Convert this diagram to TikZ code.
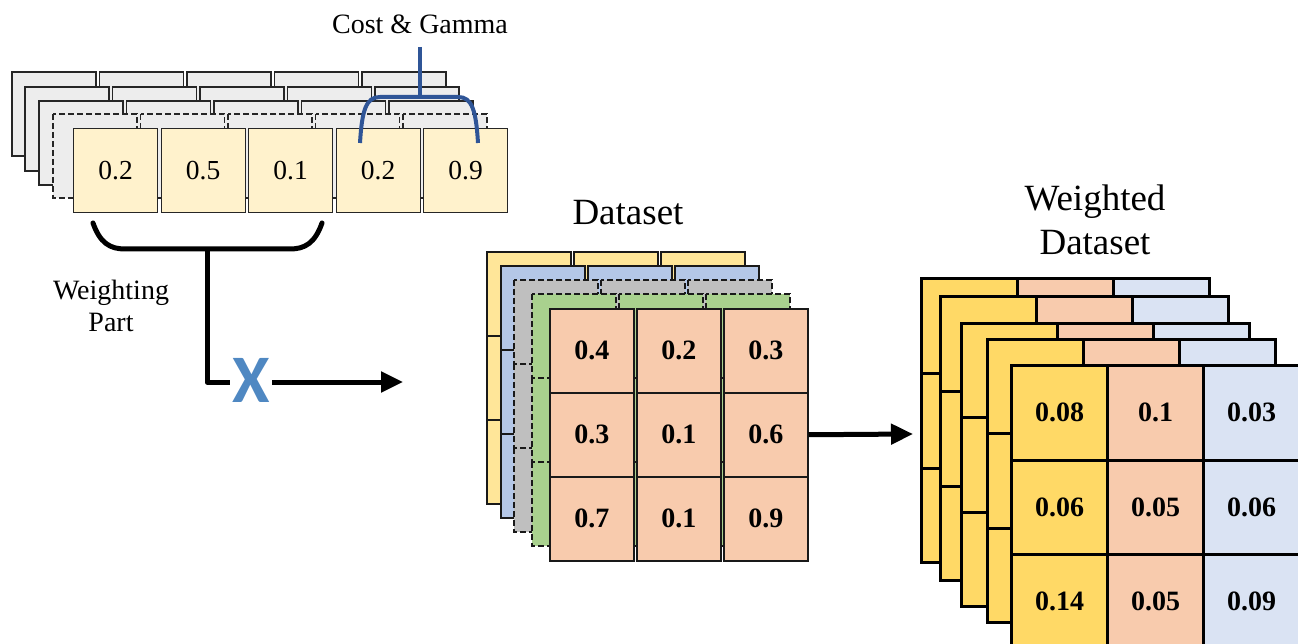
\documentclass[tikz,border=0pt]{standalone}
\usepackage{fontspec}
\setmainfont{Liberation Serif}
\newfontfamily\xfont{Carlito}
\usetikzlibrary{arrows.meta}

\definecolor{wgray}{HTML}{EDEDED}
\definecolor{wfill}{HTML}{FFF2CC}
\definecolor{dyellow}{HTML}{FFE699}
\definecolor{dblue}{HTML}{B4C7E7}
\definecolor{dgray}{HTML}{BFBFBF}
\definecolor{dgreen}{HTML}{A9D18E}
\definecolor{dorange}{HTML}{F8CBAD}
\definecolor{ryellow}{HTML}{FFD966}
\definecolor{rorange}{HTML}{F8CBAD}
\definecolor{rblue}{HTML}{DAE3F3}
\definecolor{bracketblue}{HTML}{2F5597}
\definecolor{xblue}{HTML}{4F88C2}

\tikzset{
  brokenline/.style={dash pattern=on 6pt off 3pt},
  wcell/.style={draw=black!85, line width=1.2pt, fill=wgray},
  wfront/.style={draw=black!85, line width=1.2pt, fill=wfill, anchor=north west,
    minimum width=84pt, minimum height=84pt, inner sep=0pt,
    font=\fontsize{27.5}{30}\selectfont},
  dcell/.style={draw=black!90, line width=1.5pt},
  dfront/.style={draw=black!90, line width=1.5pt, fill=dorange, anchor=north west,
    minimum width=84pt, minimum height=84pt, inner sep=0pt,
    font=\fontsize{28}{30}\selectfont\bfseries},
  rcell/.style={draw=black, line width=3pt},
  rfront/.style={draw=black, line width=3pt, anchor=north west,
    minimum width=96pt, minimum height=94.5pt, inner sep=0pt,
    font=\fontsize{28}{30}\selectfont\bfseries},
  label/.style={font=\fontsize{28}{32}\selectfont, align=center, inner sep=0pt},
  title/.style={font=\fontsize{37}{44}\selectfont, align=center, inner sep=0pt},
  blackline/.style={line width=5pt, line cap=round, line join=round},
  blueline/.style={draw=bracketblue, line width=4pt}
}

\begin{document}
\begin{tikzpicture}[x=1pt, y=-1pt]
\useasboundingbox (0,0) rectangle (1298,644);

% ---- weighting vector stack ----
\foreach \lx/\ly/\st in {12/72/solid, 25/87/solid, 39/101/solid, 53/114/brokenline} {
  \foreach \c in {0,...,4} {
    \draw[wcell, \st] ({\lx+\c*87.5},\ly) rectangle ++(84,84);
  }
}
\foreach \v [count=\i from 0] in {0.2,0.5,0.1,0.2,0.9} {
  \node[wfront] (w\i) at ({73+\i*87.5},128) {\v};
}

% cost & gamma bracket
\node[label] (cg) at (420,24) {Cost \& Gamma};
\coordinate (cgtop) at (420,47);
\coordinate (cgmid) at (420,97);
\draw[blueline] (cgtop) -- (cgmid);
\draw[blueline] (360,143) .. controls (362,110) and (366,97) .. (380,97)
  -- (458,97) .. controls (472,97) and (476,110) .. (478,143);

% weighting-part bracket
\draw[blackline] (93,223) .. controls (100,243) and (110,249) .. (125,249)
  -- (290,249) .. controls (305,249) and (315,243) .. (322,223);
\coordinate (wb) at (207,249);
\node[label] (wp) at (111,306) {Weighting\\Part};

% multiply symbol and arrow into the dataset
\node[font=\xfont\bfseries\fontsize{68}{68}\selectfont, text=xblue, inner sep=0pt,
  minimum width=42pt] (xs) at (251,380) {X};
\coordinate (din) at (403,382);
\draw[blackline, line cap=butt] (wb) |- ([yshift=-2pt]xs.west);
\draw[line width=5pt, -{Triangle[length=22pt,width=20pt]}] ([yshift=-2pt]xs.east) -- (din);

% ---- dataset stack ----
\node[title] (dtitle) at (628,213) {Dataset};
\foreach \lx/\ly/\col/\st in {487/252/dyellow/solid, 501/266/dblue/solid,
                                514/280/dgray/brokenline, 532/294/dgreen/brokenline} {
  \foreach \r in {0,1,2} {
    \foreach \c in {0,1,2} {
      \draw[dcell, fill=\col, \st] ({\lx+\c*87},{\ly+\r*84}) rectangle ++(84,84);
    }
  }
}
\foreach \v [count=\k from 0] in {0.4,0.2,0.3,0.3,0.1,0.6,0.7,0.1,0.9} {
  \pgfmathtruncatemacro{\r}{\k/3}
  \pgfmathtruncatemacro{\c}{mod(\k,3)}
  \node[dfront] (d\r\c) at ({549+\c*87},{308+\r*84}) {\v};
}

% ---- weighted dataset stack ----
\node[title] (rtitle) at (1095,220) {Weighted\\Dataset};
\foreach \lx/\ly in {921/279, 940/297, 961/323, 987/339} {
  \foreach \r in {0,1,2} {
    \foreach \c/\col in {0/ryellow, 1/rorange, 2/rblue} {
      \draw[rcell, fill=\col] ({\lx+\c*96},{\ly+\r*94.5}) rectangle ++(96,94.5);
    }
  }
}
\foreach \v [count=\k from 0] in {0.08,0.1,0.03,0.06,0.05,0.06,0.14,0.05,0.09} {
  \pgfmathtruncatemacro{\r}{\k/3}
  \pgfmathtruncatemacro{\c}{mod(\k,3)}
  \ifcase\c\def\col{ryellow}\or\def\col{rorange}\else\def\col{rblue}\fi
  \node[rfront, fill=\col] (r\r\c) at ({1010+\c*96},{364+\r*94.5}) {\v};
}

% dataset to weighted dataset
\coordinate (rin) at (913,434);
\draw[line width=5pt, -{Triangle[length=22pt,width=20pt]}] (d12.east) -- (rin);
\end{tikzpicture}
\end{document}
